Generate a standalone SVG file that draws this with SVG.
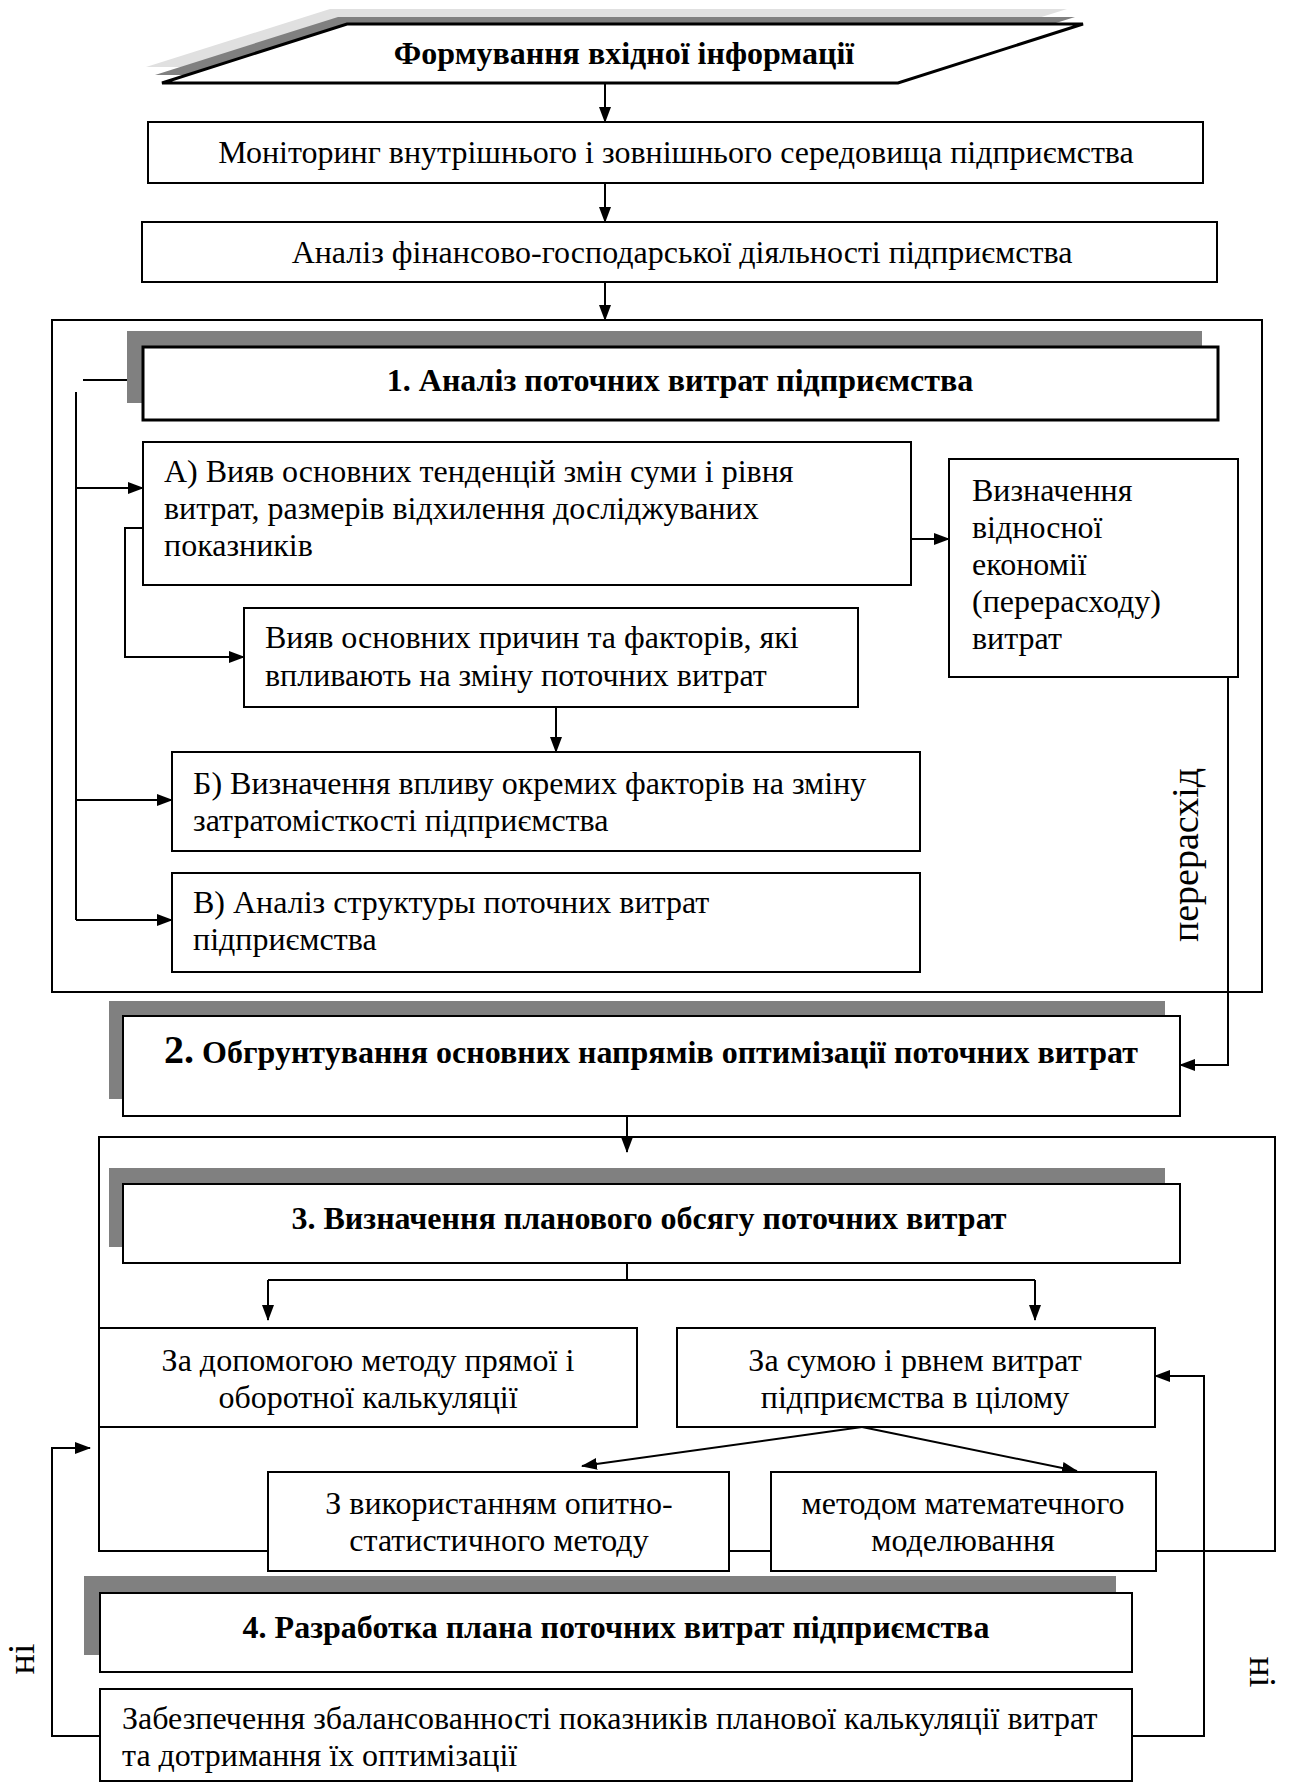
<svg xmlns="http://www.w3.org/2000/svg" width="1289" height="1782" viewBox="0 0 1289 1782">
<defs>
<marker id="ah" markerUnits="userSpaceOnUse" markerWidth="16" markerHeight="12" refX="15" refY="6" orient="auto">
<path d="M0,0 L16,6 L0,12 Z" fill="#000"/>
</marker>
<style>
.bx{fill:#fff;stroke:#000;stroke-width:2}
.hb{fill:#fff;stroke:#000;stroke-width:3}
.sh{fill:#808080;stroke:none}
.ct{fill:none;stroke:#000;stroke-width:2}
.ln{fill:none;stroke:#000;stroke-width:2}
.ar{fill:none;stroke:#000;stroke-width:2;marker-end:url(#ah)}
.t{font-family:"Liberation Serif","Times New Roman",serif;font-size:32px;fill:#000}
.c{text-anchor:middle}
.b{font-family:"Liberation Serif","Times New Roman",serif;font-size:32px;font-weight:bold;fill:#000;text-anchor:middle}
.v{font-family:"Liberation Serif","Times New Roman",serif;font-size:38px;fill:#000;text-anchor:middle}
</style>
</defs>
<rect width="1289" height="1782" fill="#fff"/>

<g id="containers">
<rect class="ct" x="52" y="320" width="1210" height="672"/>
<rect class="ct" x="99" y="1137" width="1176" height="414"/>
</g>

<g id="connectors">
<line class="ar" x1="605" y1="83" x2="605" y2="122"/>
<line class="ar" x1="605" y1="183" x2="605" y2="222"/>
<line class="ar" x1="605" y1="282" x2="605" y2="320"/>
<line class="ln" x1="83" y1="380" x2="143" y2="380"/>
<line class="ln" x1="76" y1="392" x2="76" y2="920"/>
<line class="ar" x1="76" y1="488" x2="143" y2="488"/>
<line class="ar" x1="76" y1="800" x2="172" y2="800"/>
<line class="ar" x1="76" y1="920" x2="172" y2="920"/>
<line class="ar" x1="911" y1="539" x2="949" y2="539"/>
<polyline class="ar" points="147,528 125,528 125,657 244,657"/>
<line class="ar" x1="556" y1="707" x2="556" y2="752"/>
<polyline class="ar" points="1228,677 1228,1065 1180,1065"/>
<line class="ar" x1="627" y1="1116" x2="627" y2="1152"/>
<line class="ln" x1="627" y1="1257" x2="627" y2="1280"/>
<line class="ln" x1="268" y1="1280" x2="1035" y2="1280"/>
<line class="ar" x1="268" y1="1280" x2="268" y2="1320"/>
<line class="ar" x1="1035" y1="1280" x2="1035" y2="1320"/>
<line class="ar" x1="862" y1="1427" x2="582" y2="1466"/>
<line class="ar" x1="862" y1="1427" x2="1077" y2="1471"/>
<polyline class="ar" points="1132,1736 1204,1736 1204,1376 1155,1376"/>
<polyline class="ar" points="100,1736 52,1736 52,1448 90,1448"/>
</g>

<g id="n0">
<polygon fill="#e0e0e0" points="146,67 330,9 1067,9 883,67"/>
<polygon fill="#808080" points="155,75 338,17 1075,17 891,75"/>
<polygon fill="#fff" stroke="#000" stroke-width="3" points="162,83 347,24 1083,24 898,83"/>
<text class="b" x="624" y="64">Формування вхідної інформації</text>
</g>

<g id="n1">
<rect class="bx" x="148" y="122" width="1055" height="61"/>
<text class="t c" x="676" y="163">Моніторинг внутрішнього і зовнішнього середовища підприємства</text>
</g>

<g id="n2">
<rect class="bx" x="142" y="222" width="1075" height="60"/>
<text class="t c" x="682" y="263">Аналіз фінансово-господарської діяльності підприємства</text>
</g>

<g id="n3">
<rect class="sh" x="127" y="331" width="1075" height="72"/>
<rect class="hb" x="143" y="347" width="1075" height="73"/>
<text class="b" x="680" y="391">1. Аналіз поточних витрат підприємства</text>
</g>

<g id="n4">
<rect class="bx" x="143" y="442" width="768" height="143"/>
<text class="t" x="164" y="482">А) Вияв основних тенденцій змін суми і рівня</text>
<text class="t" x="164" y="519">витрат, размерів відхилення досліджуваних</text>
<text class="t" x="164" y="556">показників</text>
</g>

<g id="n5">
<rect class="bx" x="949" y="459" width="289" height="218"/>
<text class="t" x="972" y="501">Визначення</text>
<text class="t" x="972" y="538">відносної</text>
<text class="t" x="972" y="575">економії</text>
<text class="t" x="972" y="612">(перерасходу)</text>
<text class="t" x="972" y="649">витрат</text>
</g>

<g id="n6">
<rect class="bx" x="244" y="608" width="614" height="99"/>
<text class="t" x="265" y="648">Вияв основних причин та факторів, які</text>
<text class="t" x="265" y="686">впливають на зміну поточних витрат</text>
</g>

<g id="n7">
<rect class="bx" x="172" y="752" width="748" height="99"/>
<text class="t" x="193" y="794">Б) Визначення впливу окремих факторів на зміну</text>
<text class="t" x="193" y="831">затратомісткості підприємства</text>
</g>

<g id="n8">
<rect class="bx" x="172" y="873" width="748" height="99"/>
<text class="t" x="193" y="913">В) Аналіз структуры поточних витрат</text>
<text class="t" x="193" y="950">підприємства</text>
</g>

<g id="lbl1">
<text class="v" transform="translate(1198,855) rotate(-90)">перерасхід</text>
</g>

<g id="n9">
<rect class="sh" x="109" y="1001" width="1056" height="98"/>
<rect class="bx" x="123" y="1016" width="1057" height="100"/>
<text class="b" x="651" y="1063"><tspan font-size="40">2.</tspan> Обгрунтування основних напрямів оптимізації поточних витрат</text>
</g>

<g id="n10">
<rect class="sh" x="109" y="1168" width="1056" height="79"/>
<rect class="bx" x="123" y="1184" width="1057" height="79"/>
<text class="b" x="649" y="1229">3. Визначення планового обсягу поточних витрат</text>
</g>

<g id="n11">
<rect class="bx" x="99" y="1328" width="538" height="99"/>
<text class="t c" x="368" y="1371">За допомогою методу прямої і</text>
<text class="t c" x="368" y="1408">оборотної калькуляції</text>
</g>

<g id="n12">
<rect class="bx" x="677" y="1328" width="478" height="99"/>
<text class="t c" x="915" y="1371">За сумою і рвнем витрат</text>
<text class="t c" x="915" y="1408">підприємства в цілому</text>
</g>

<g id="n13">
<rect class="bx" x="268" y="1472" width="461" height="99"/>
<text class="t c" x="499" y="1514">З використанням опитно-</text>
<text class="t c" x="499" y="1551">статистичного методу</text>
</g>

<g id="n14">
<rect class="bx" x="771" y="1472" width="385" height="99"/>
<text class="t c" x="963" y="1514">методом математечного</text>
<text class="t c" x="963" y="1551">моделювання</text>
</g>

<g id="n15">
<rect class="sh" x="84" y="1576" width="1032" height="79"/>
<rect class="bx" x="100" y="1593" width="1032" height="79"/>
<text class="b" x="616" y="1638">4. Разработка плана поточних витрат підприємства</text>
</g>

<g id="n16">
<rect class="bx" x="100" y="1689" width="1032" height="92"/>
<text class="t" x="122" y="1729">Забезпечення збалансованності показників планової калькуляції витрат</text>
<text class="t" x="122" y="1766">та дотримання їх оптимізації</text>
</g>

<g id="lbl2">
<text class="v" transform="translate(34,1659) rotate(-90)">ні</text>
<text class="v" transform="translate(1250,1672) rotate(90)">ні</text>
</g>
</svg>
